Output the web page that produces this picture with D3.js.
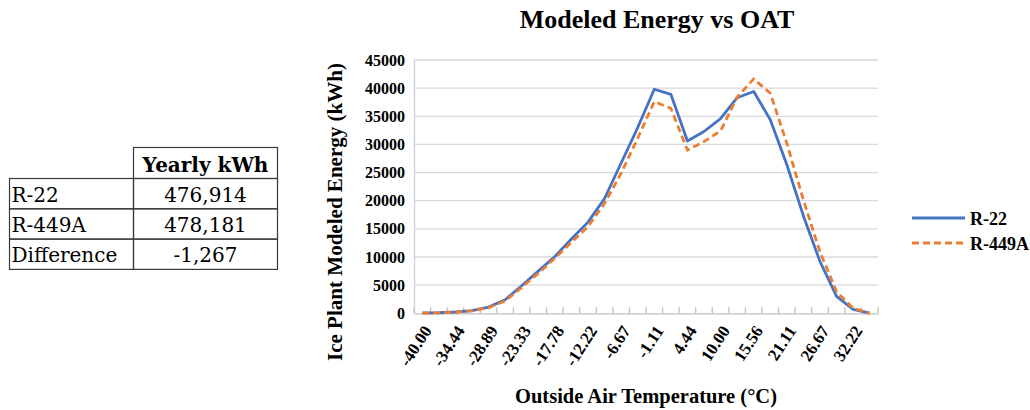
<!DOCTYPE html>
<html>
<head>
<meta charset="utf-8">
<script src="https://cdn.jsdelivr.net/npm/d3@7"></script>
<style>
  html, body { margin: 0; padding: 0; background: #fff; }
  svg { display: block; }
</style>
</head>
<body>
<svg id="chart" width="1030" height="410"></svg>
<script>
// ---------- data ----------
const categories = ["-40.00","-37.22","-34.44","-31.67","-28.89","-26.11","-23.33","-20.56","-17.78","-15.00","-12.22","-9.44","-6.67","-3.89","-1.11","1.67","4.44","7.22","10.00","12.78","15.56","18.33","21.11","23.89","26.67","29.44","32.22","35.00"];
const r22   = [60, 100, 230, 470, 1100, 2400, 4900, 7500, 10100, 13200, 16200, 20400, 26700, 33000, 39800, 38900, 30600, 32300, 34600, 38300, 39400, 34400, 26400, 17300, 9200, 3000, 700, 50];
const r449a = [40, 80, 200, 420, 1000, 2200, 4600, 7100, 9800, 12600, 15400, 19500, 24900, 31100, 37600, 36400, 29000, 30500, 32400, 38400, 41650, 39100, 30200, 20100, 10900, 3850, 900, 0];
const seriesNames = ["R-22", "R-449A"];
const yTicks = [0, 5000, 10000, 15000, 20000, 25000, 30000, 35000, 40000, 45000];
const xLabelEvery = 2;
const titleText = "Modeled Energy vs OAT";
const xTitle = "Outside Air Temperature (°C)";
const yTitle = "Ice Plant Modeled Energy (kWh)";
const tableHeader = "Yearly kWh";
const tableLabels = ["R-22", "R-449A", "Difference"];
const tableValues = ["476,914", "478,181", "-1,267"];

// ---------- layout ----------
const svg = d3.select("#chart");
const serif = "'Liberation Serif','Times New Roman',serif";
const slab = "'DejaVu Serif',serif";
const plot = {left: 414, right: 878, top: 60, bottom: 313.3};
const colors = ["#4472C4", "#ED7D31"];

const x = d3.scaleBand().domain(categories).range([plot.left, plot.right]).padding(0);
const y = d3.scaleLinear().domain([0, 45000]).range([plot.bottom, plot.top]);
const cx = c => x(c) + x.bandwidth() / 2;

// gridlines
svg.append("g").selectAll("line").data(yTicks.filter(d => d > 0)).join("line")
  .attr("x1", plot.left).attr("x2", plot.right)
  .attr("y1", d => y(d)).attr("y2", d => y(d))
  .attr("stroke", "#d9d9d9").attr("stroke-width", 1.3);

// y axis
const yAxis = svg.append("g").attr("transform", `translate(${plot.left},0)`)
  .call(d3.axisLeft(y).tickValues(yTicks).tickSize(0).tickPadding(9).tickFormat(d3.format("d")));
yAxis.select(".domain").attr("stroke", "#d0d0d0").attr("stroke-width", 1.3);
yAxis.selectAll("text").attr("font-family", serif).attr("font-weight", "bold")
  .attr("font-size", 16).attr("fill", "#000");

// x axis
const xAxis = svg.append("g").attr("transform", `translate(0,${plot.bottom})`)
  .call(d3.axisBottom(x).tickSize(0).tickFormat(""));
xAxis.select(".domain").attr("stroke", "#bfbfbf").attr("stroke-width", 1.3);
xAxis.selectAll(".tick").remove();
// ticks at category boundaries (inside)
const bounds = categories.map(c => x(c)).concat([plot.right]);
svg.append("g").selectAll("line").data(bounds).join("line")
  .attr("x1", d => d).attr("x2", d => d)
  .attr("y1", plot.bottom - 6).attr("y2", plot.bottom)
  .attr("stroke", "#bfbfbf").attr("stroke-width", 1.3);
// rotated labels
svg.append("g").selectAll("text")
  .data(categories.filter((c, i) => i % xLabelEvery === 0)).join("text")
  .attr("transform", c => `translate(${cx(c) + 5},${plot.bottom + 14}) rotate(-57)`)
  .attr("text-anchor", "end").attr("dy", "0.35em")
  .attr("font-family", serif).attr("font-weight", "bold").attr("font-size", 17)
  .text(c => c);

// lines
const line = d3.line().x((d, i) => cx(categories[i])).y(d => y(d));
svg.append("path").datum(r22).attr("d", line)
  .attr("fill", "none").attr("stroke", colors[0]).attr("stroke-width", 2.8)
  .attr("stroke-linejoin", "round");
svg.append("path").datum(r449a).attr("d", line)
  .attr("fill", "none").attr("stroke", colors[1]).attr("stroke-width", 2.8)
  .attr("stroke-dasharray", "7,4");

// title
svg.append("text").attr("x", 657).attr("y", 28).attr("text-anchor", "middle")
  .attr("font-family", serif).attr("font-weight", "bold").attr("font-size", 26)
  .text(titleText);

// axis titles
svg.append("text").attr("x", 646).attr("y", 403).attr("text-anchor", "middle")
  .attr("font-family", serif).attr("font-weight", "bold").attr("font-size", 20.5)
  .text(xTitle);
svg.append("text").attr("transform", "translate(342,212) rotate(-90)")
  .attr("text-anchor", "middle")
  .attr("font-family", serif).attr("font-weight", "bold").attr("font-size", 20)
  .attr("textLength", 298).attr("lengthAdjust", "spacingAndGlyphs")
  .text(yTitle);

// legend
const leg = svg.append("g");
seriesNames.forEach((name, i) => {
  const ly = 218 + i * 25;
  leg.append("line").attr("x1", 912).attr("x2", 965).attr("y1", ly).attr("y2", ly)
    .attr("stroke", colors[i]).attr("stroke-width", 2.8)
    .attr("stroke-dasharray", i === 1 ? "7,4" : null);
  leg.append("text").attr("x", 970).attr("y", ly + 6.5)
    .attr("font-family", serif).attr("font-weight", "bold").attr("font-size", 18)
    .text(name);
});

// table
const tx0 = 9.5, tx1 = 133.5, tx2 = 277.5;
const rowTop = [147.5, 178.5, 208.8, 239.1];
const rowBottom = 269.4;
const tbl = svg.append("g").attr("stroke", "#3a3a3a").attr("stroke-width", 1.2);
// header cell
tbl.append("rect").attr("x", tx1).attr("y", rowTop[0]).attr("width", tx2 - tx1)
  .attr("height", rowTop[1] - rowTop[0]).attr("fill", "none");
// body rows
tableLabels.forEach((lab, i) => {
  const top = rowTop[i + 1];
  const bot = i + 2 < rowTop.length ? rowTop[i + 2] : rowBottom;
  tbl.append("rect").attr("x", tx0).attr("y", top).attr("width", tx1 - tx0)
    .attr("height", bot - top).attr("fill", "none");
  tbl.append("rect").attr("x", tx1).attr("y", top).attr("width", tx2 - tx1)
    .attr("height", bot - top).attr("fill", "none");
});
svg.append("text").attr("x", (tx1 + tx2) / 2).attr("y", rowTop[1] - 7)
  .attr("text-anchor", "middle").attr("font-family", slab).attr("font-weight", "bold")
  .attr("font-size", 20).text(tableHeader);
svg.append("g").selectAll("text").data(tableLabels).join("text")
  .attr("x", 11.5).attr("y", (d, i) => rowTop[i + 1] + 23)
  .attr("font-family", slab).attr("font-size", 20).text(d => d);
svg.append("g").selectAll("text").data(tableValues).join("text")
  .attr("x", (tx1 + tx2) / 2).attr("y", (d, i) => rowTop[i + 1] + 23)
  .attr("text-anchor", "middle").attr("font-family", slab).attr("font-size", 20).text(d => d);
</script>
</body>
</html>
